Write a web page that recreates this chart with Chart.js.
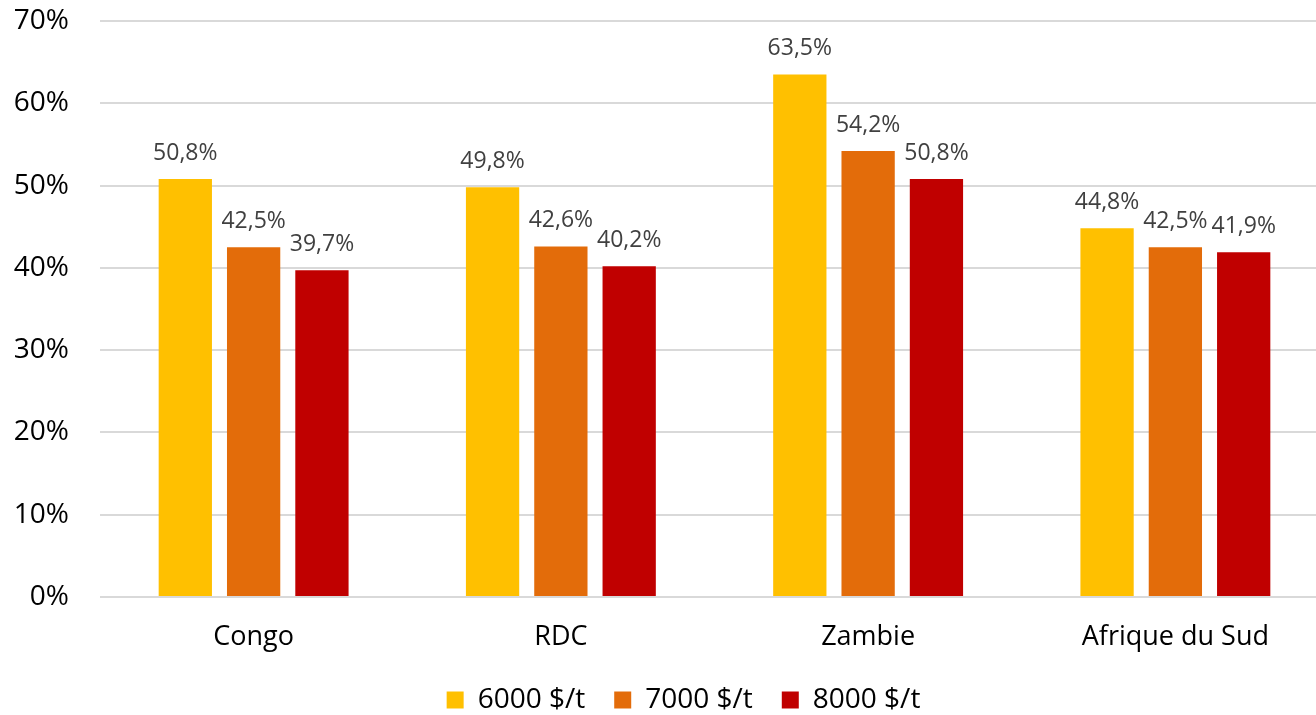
<!DOCTYPE html>
<html>
<head>
<meta charset="utf-8">
<script src="https://cdn.jsdelivr.net/npm/chart.js@4.4.1/dist/chart.umd.min.js"></script>
<style>
  html, body { margin: 0; padding: 0; background: #fff; overflow: hidden; }
  #wrap { width: 1316px; height: 715px; overflow: hidden; position: relative; }
  canvas { display: block; }
</style>
</head>
<body>
<div id="wrap"><canvas id="chart" width="1329" height="724"></canvas></div>
<script>
// Categories and series (percent values)
const categories = ['Congo', 'RDC', 'Zambie', 'Afrique du Sud'];
const seriesNames = ['6000 $/t', '7000 $/t', '8000 $/t'];
const values6000 = [50.8, 49.8, 63.5, 44.8];
const values7000 = [42.5, 42.6, 54.2, 42.5];
const values8000 = [39.7, 40.2, 50.8, 41.9];
const yTicks = [0, 10, 20, 30, 40, 50, 60, 70];

const colors = ['#FFC000', '#E36C0A', '#C00000'];
const FONT = '"Open Sans", "DejaVu Sans", sans-serif';

const fmt = v => v.toFixed(1).replace('.', ',') + '%';

// Value labels drawn above every bar
const barValueLabels = {
  id: 'barValueLabels',
  afterDatasetsDraw(chart) {
    const ctx = chart.ctx;
    ctx.save();
    ctx.font = '23px ' + FONT;
    ctx.fillStyle = '#404040';
    ctx.textAlign = 'center';
    ctx.textBaseline = 'middle';
    chart.data.datasets.forEach((ds, i) => {
      const meta = chart.getDatasetMeta(i);
      meta.data.forEach((bar, j) => {
        ctx.fillText(fmt(ds.data[j]), bar.x, bar.y - 26);
      });
    });
    ctx.restore();
  }
};

// Nudge the legend row to the right of the canvas centre
const legendShift = {
  id: 'legendShift',
  afterLayout(chart) {
    const lg = chart.legend;
    if (lg) { lg.left += 19; lg.right += 19; }
  }
};

new Chart(document.getElementById('chart'), {
  type: 'bar',
  data: {
    labels: categories,
    datasets: [values6000, values7000, values8000].map((d, i) => ({
      label: seriesNames[i],
      data: d,
      backgroundColor: colors[i],
      borderWidth: 0,
      categoryPercentage: 0.667,
      barPercentage: 0.78
    }))
  },
  options: {
    responsive: false,
    devicePixelRatio: 1,
    animation: false,
    layout: { padding: { top: 21, left: 0, right: 0, bottom: 0 } },
    plugins: {
      tooltip: { enabled: false },
      legend: {
        position: 'bottom',
        labels: {
          font: { family: FONT, size: 28 },
          color: '#000',
          boxWidth: 17,
          boxHeight: 17,
          padding: 29
        }
      }
    },
    scales: {
      x: {
        grid: { display: false, drawTicks: false },
        border: { display: false },
        ticks: { font: { family: FONT, size: 27 }, color: '#000', padding: 24 },
        afterFit: s => { s.height = 60; }
      },
      y: {
        min: 0,
        max: 70,
        afterBuildTicks: s => { s.ticks = yTicks.map(v => ({ value: v })); },
        grid: { color: '#d9d9d9', lineWidth: 2, drawTicks: false },
        border: { display: false },
        ticks: {
          font: { family: FONT, size: 28 },
          color: '#000',
          padding: 31,
          callback: v => v + '%'
        },
        afterFit: s => { s.width = 100; s.paddingTop = 0; s.paddingBottom = 0; }
      }
    }
  },
  plugins: [barValueLabels, legendShift]
});
</script>
</body>
</html>
